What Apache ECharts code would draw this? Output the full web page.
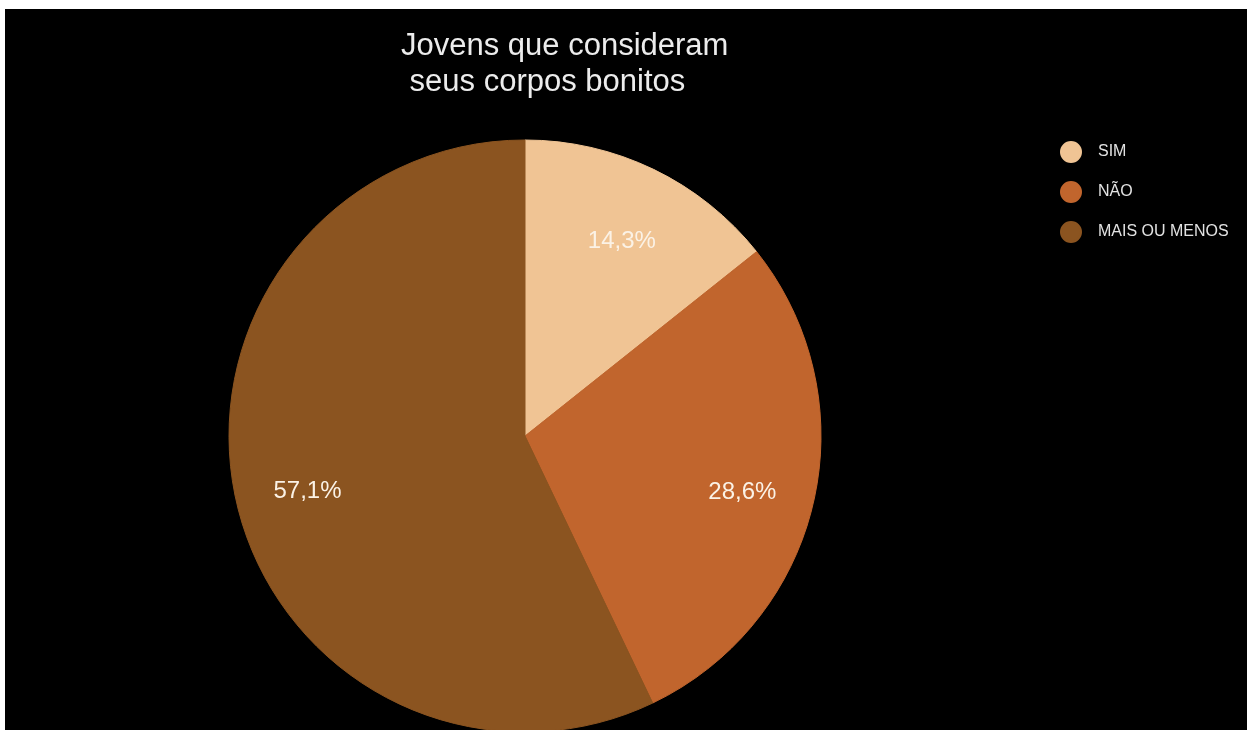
<!DOCTYPE html>
<html>
<head>
<meta charset="utf-8">
<script src="https://cdn.jsdelivr.net/npm/echarts@6/dist/echarts.min.js"></script>
<style>
    html, body { margin: 0; padding: 0; background: #fff; }
    #chart { position: absolute; left: 5px; top: 9px; width: 1242px; height: 721px; }
</style>
</head>
<body>
<div id="chart"></div>
<script>
// respostas da pesquisa
var categorias = ['SIM', 'NÃO', 'MAIS OU MENOS'];
var valores = [14.3, 28.6, 57.1];
var cores = ['#F0C494', '#C1652D', '#8B5420'];

var dados = [];
for (var i = 0; i < categorias.length; i++) {
    dados.push({
        name: categorias[i],
        value: valores[i],
        itemStyle: { color: cores[i], borderColor: cores[i], borderWidth: 1 }
    });
}

var fmt = function (p) {
    return p.value.toFixed(1).replace('.', ',') + '%';
};

var option = {
    backgroundColor: '#000',
    animation: false,
    title: {
        text: 'Jovens que consideram\n seus corpos bonitos',
        left: 391,
        top: 14,
        textStyle: {
            color: '#ececec',
            fontFamily: 'Liberation Sans',
            fontWeight: 'normal',
            fontSize: 31,
            lineHeight: 36
        }
    },
    legend: {
        orient: 'vertical',
        left: 1050,
        top: 127,
        icon: 'circle',
        itemWidth: 36,
        itemHeight: 20,
        itemGap: 18,
        data: categorias,
        textStyle: {
            color: '#e2e2e2',
            fontFamily: 'Liberation Sans',
            fontSize: 16,
            padding: [0, 0, 0, 4]
        }
    },
    series: [{
        name: 'fatias',
        type: 'pie',
        center: [520, 427],
        radius: [0, 296],
        startAngle: 90,
        clockwise: true,
        silent: true,
        label: { show: false },
        labelLine: { show: false },
        emphasis: { disabled: true },
        data: dados
    }, {
        // só para posicionar os rótulos
        name: 'rotulos',
        type: 'pie',
        center: [520, 427],
        radius: [144, 296],
        startAngle: 90,
        clockwise: true,
        silent: true,
        itemStyle: { color: 'transparent' },
        label: {
            show: true,
            position: 'inside',
            formatter: fmt,
            color: '#fbf2e6',
            fontFamily: 'Liberation Sans',
            fontSize: 24,
            offset: [0, 6]
        },
        labelLine: { show: false },
        emphasis: { disabled: true },
        data: categorias.map(function (c, i) {
            return { name: c, value: valores[i] };
        })
    }]
};

var chart = echarts.init(document.getElementById('chart'));
chart.setOption(option);
</script>
</body>
</html>
